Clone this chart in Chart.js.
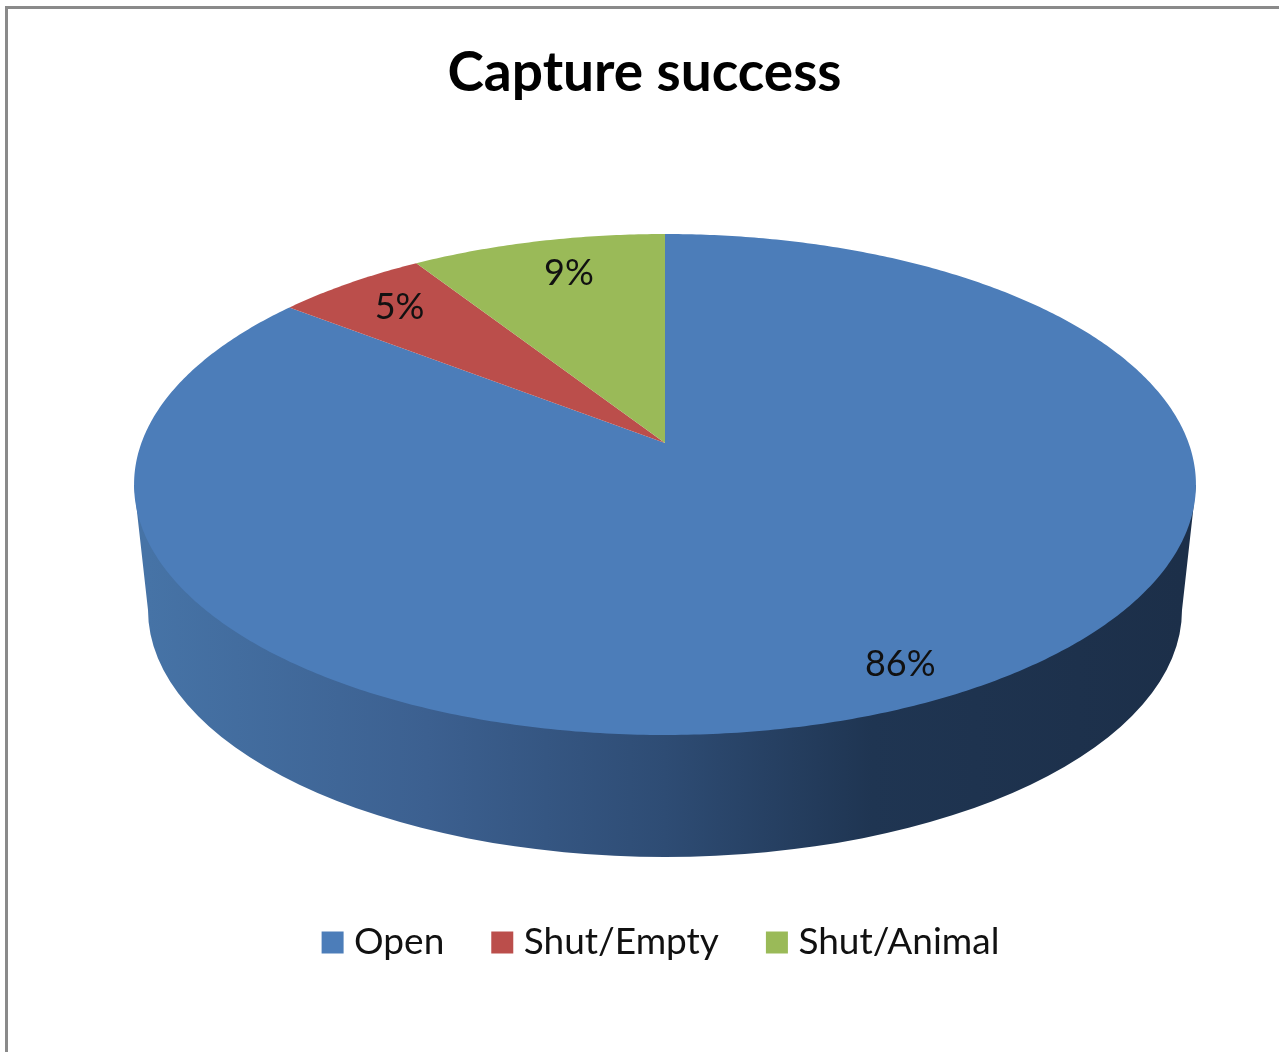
<!DOCTYPE html>
<html>
<head>
<meta charset="utf-8">
<title>Capture success</title>
<script src="https://cdn.jsdelivr.net/npm/chart.js@4"></script>
<style>
  html, body { margin: 0; padding: 0; background: #fff; overflow: hidden; }
  #frame { position: absolute; left: 5px; top: 6px; width: 1274px; height: 1046px;
           border-left: 3px solid #8a8a8a; border-top: 3px solid #8a8a8a; box-sizing: border-box; }
  #chart { position: absolute; left: 0; top: 0; filter: blur(0.7px); }
</style>
</head>
<body>
<div id="frame"></div>
<canvas id="chart" width="1279" height="1052"></canvas>
<script>
const chartTitle = "Capture success";
const categories = ["Open", "Shut/Empty", "Shut/Animal"];
const shares = [85.5, 5.4, 9.1];
const sliceColors = ["#4c7db9", "#bb4e4b", "#9aba58"];

// how far out each % label sits, as a fraction of the radius, plus a small sideways nudge
const labelRadius = [0.88, 0.83, 0.82];
const labelShiftX = [2, 1, 11];

// tilted disc: apex of the slices, half axes and perspective strength
const disc = { x: 665, y: 443, a: 523.6, b: 243.6, k: 0.1657 };
// side wall of the disc
const wall = { x: 665, topY: 485, topRx: 531, y: 610, rx: 517, ry: 247 };

// clockwise angle from the top on a unit circle -> screen
function project(angle, r) {
  const u = r * Math.sin(angle);
  const v = r * Math.cos(angle);
  const w = 1 + disc.k * v;
  return { x: disc.x + disc.a * u / w, y: disc.y - disc.b * v / w };
}

function drawWall(ctx) {
  const grad = ctx.createLinearGradient(wall.x - wall.rx, 0, wall.x + wall.rx, 0);
  grad.addColorStop(0, "#4673a6");
  grad.addColorStop(0.27, "#3c6090");
  grad.addColorStop(0.5, "#2e4c74");
  grad.addColorStop(0.7, "#1f3552");
  grad.addColorStop(1, "#1c2f49");
  ctx.fillStyle = grad;
  ctx.beginPath();
  ctx.moveTo(wall.x - wall.topRx, wall.topY);
  ctx.lineTo(wall.x - wall.rx, wall.y);
  ctx.ellipse(wall.x, wall.y, wall.rx, wall.ry, 0, Math.PI, 0, true);
  ctx.lineTo(wall.x + wall.topRx, wall.topY);
  ctx.closePath();
  ctx.fill();
}

const tiltedPie = {
  id: "tiltedPie",
  afterLayout(chart) {
    chart.titleBlock.left += 5;
    chart.titleBlock.right += 5;
    chart.legend.left += 25;
    chart.legend.right += 25;
    chart.legend.top = 869;
  },
  beforeDatasetDraw(chart) {
    const ctx = chart.ctx;
    ctx.save();
    drawWall(ctx);
    chart.getDatasetMeta(0).data.forEach((arc, i) => {
      const start = arc.startAngle + Math.PI / 2;
      const end = arc.endAngle + Math.PI / 2;
      const steps = Math.ceil((end - start) / 0.01);
      ctx.beginPath();
      ctx.moveTo(disc.x, disc.y);
      for (let s = 0; s <= steps; s++) {
        const p = project(start + (end - start) * s / steps, 1);
        ctx.lineTo(p.x, p.y);
      }
      ctx.closePath();
      ctx.fillStyle = sliceColors[i];
      ctx.fill();
    });
    ctx.restore();
    return false;
  },
  afterDatasetsDraw(chart) {
    const ctx = chart.ctx;
    ctx.save();
    ctx.font = "36px Lato";
    ctx.fillStyle = "#111";
    ctx.textAlign = "center";
    ctx.textBaseline = "middle";
    chart.getDatasetMeta(0).data.forEach((arc, i) => {
      const mid = (arc.startAngle + arc.endAngle) / 2 + Math.PI / 2;
      const p = project(mid, labelRadius[i]);
      ctx.fillText(Math.round(shares[i]) + "%", p.x + labelShiftX[i], p.y);
    });
    ctx.restore();
  }
};

new Chart(document.getElementById("chart"), {
  type: "pie",
  data: {
    labels: categories,
    datasets: [{ data: shares, backgroundColor: sliceColors, borderWidth: 0 }]
  },
  options: {
    responsive: false,
    animation: false,
    devicePixelRatio: 1,
    events: [],
    plugins: {
      title: {
        display: true,
        text: chartTitle,
        color: "#000",
        font: { family: "Lato", size: 55, weight: "bold" },
        padding: { top: 40, bottom: 10 }
      },
      legend: {
        position: "bottom",
        labels: {
          usePointStyle: true,
          pointStyle: "rect",
          boxWidth: 6,
          boxHeight: 22,
          padding: 55,
          color: "#111",
          font: { family: "Lato", size: 37 }
        }
      },
      tooltip: { enabled: false }
    }
  },
  plugins: [tiltedPie]
});
</script>
</body>
</html>
